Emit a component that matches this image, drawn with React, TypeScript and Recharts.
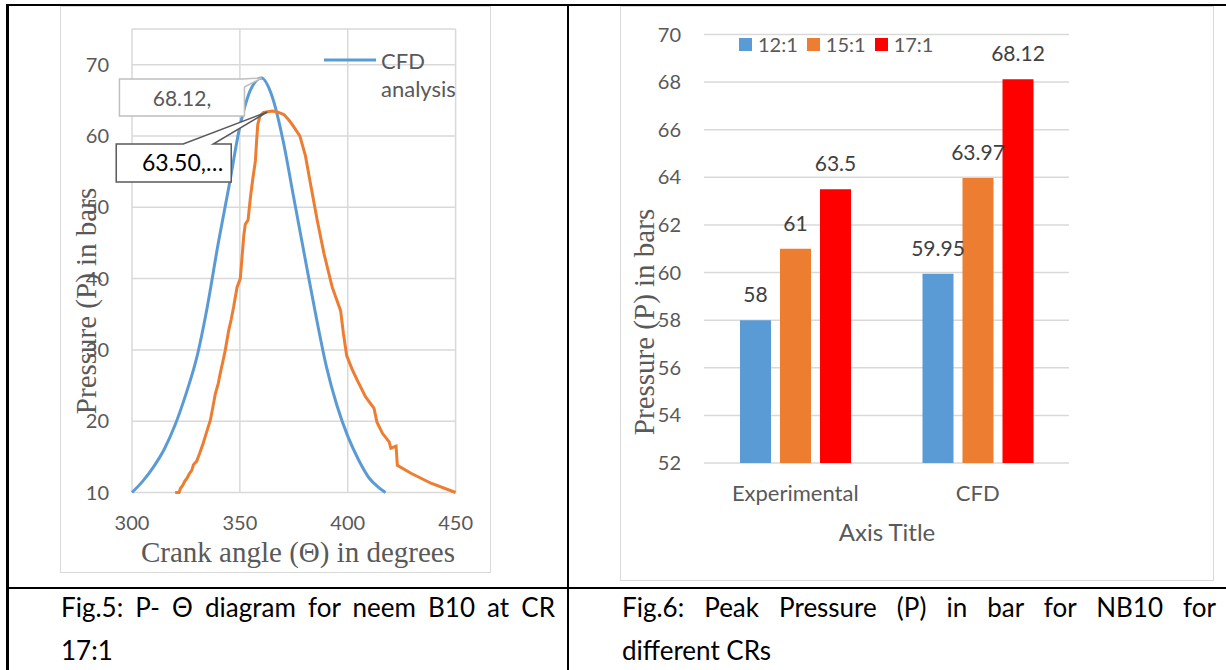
import React from "react";
import {
  LineChart,
  Line,
  BarChart,
  Bar,
  XAxis,
  YAxis,
  CartesianGrid,
  Legend,
  LabelList,
  Label,
} from "recharts";

// Fig.5 – P-theta curves
const cfdAngles = [300, 305, 310, 315, 320, 325, 330, 335, 340, 345, 350, 355, 360, 365, 370, 375, 380, 385, 390, 395, 400, 405, 410, 414, 417.5];
const cfdPressures = [10, 11.6, 13.6, 16.1, 19.5, 23.8, 28.9, 36.2, 45, 53, 61.3, 66.5, 68.12, 65.5, 59.4, 51.3, 43.2, 35.2, 27.8, 22.2, 17.9, 14.6, 12, 10.8, 10];

const expAngles = [
  320, 321.8, 322.5, 323.5, 324.5, 325.5, 326.5, 327.7, 328.5, 330, 331.5, 333, 334.5, 336.3, 337.5, 338.6, 340, 340.9, 342, 343.2,
  344.8, 346, 347.1, 348.7, 350.2, 351, 351.8, 352.5, 353.8, 354.9, 356, 357.2, 357.8, 358.3, 359.3, 361, 363, 365, 367, 370.4,
  372.5, 374.3, 377.8, 380.4, 382.8, 385.9, 389, 392.8, 396.7, 398, 399.5, 402, 404.5, 408.3, 412.2, 413.5, 416.1, 419.2, 420, 421.5,
  422.4, 423, 429.3, 438.6, 450,
];
const expPressures = [
  10, 10, 10.6, 11, 11.6, 12, 12.6, 13.1, 13.9, 14.4, 15.6, 16.9, 18.4, 20.1, 22, 23.8, 25.3, 26.7, 28.2, 29.9,
  32.7, 34.3, 36, 38.8, 40, 43, 46, 47.6, 48.2, 51.4, 54, 56.5, 59.5, 61.6, 62.8, 63.3, 63.4, 63.5, 63.4, 63,
  62.3, 61.6, 60, 57.2, 53.2, 48.1, 43.5, 38.8, 35.5, 32.3, 29.2, 27.3, 25.7, 23.4, 21.8, 19.9, 18.3, 17.1, 16.2, 16.4,
  16.5, 13.8, 12.7, 11.3, 10,
];

const angleTicks = [300, 350, 400, 450];
const pressureTicks = [10, 20, 30, 40, 50, 60, 70];

// Fig.6 – peak pressure bars
const groups = ["Experimental", "CFD"];
const cr12 = [58, 59.95];
const cr15 = [61, 63.97];
const cr17 = [63.5, 68.12];
const peakTicks = [52, 54, 56, 58, 60, 62, 64, 66, 68, 70];

const cfdData = cfdAngles.map((a, i) => ({ angle: a, pressure: cfdPressures[i] }));
const expData = expAngles.map((a, i) => ({ angle: a, pressure: expPressures[i] }));
const cfdMax = Math.max(...cfdPressures);
const expMax = Math.max(...expPressures);

const barData = groups.map((g, i) => ({ group: g, cr12: cr12[i], cr15: cr15[i], cr17: cr17[i] }));

const SANS = "Lato, 'Open Sans', sans-serif";
const SERIF = "'Liberation Serif', 'Times New Roman', serif";
const GRID = "#d9d9d9";
const tickStyle = { fontFamily: SANS, fontSize: 20, fill: "#595959" };

const CfdCallout = (props: any) => {
  const { x, y, value } = props;
  if (value !== cfdMax) return <g />;
  const l = x - 142;
  const r = x - 17;
  const t = y + 1;
  const b = y + 38;
  return (
    <g>
      <path
        d={`M${l},${t} H${r - 2} L${x},${y} L${r},${t + 8} V${b} H${l} Z`}
        fill="#fff"
        stroke="#bfbfbf"
        strokeWidth={1.5}
      />
      <text x={(l + r) / 2} y={y + 28} textAnchor="middle" fontFamily={SANS} fontSize={21} fill="#595959">
        {`${value.toFixed(2)},`}
      </text>
    </g>
  );
};

const ExpCallout = (props: any) => {
  const { x, y, value } = props;
  if (value !== expMax) return <g />;
  const ax = x - 5;
  const ay = y + 1;
  const l = x - 156;
  const r = x - 41;
  const t = y + 33;
  const b = y + 71;
  return (
    <g>
      <path
        d={`M${l},${t} H${x - 89} L${ax},${ay} L${x - 59},${t} H${r} V${b} H${l} Z`}
        fill="#fff"
        stroke="#595959"
        strokeWidth={1.5}
      />
      <text x={x - 49} y={y + 60} textAnchor="end" fontFamily={SANS} fontSize={23} fill="#000">
        {`${value.toFixed(2)},…`}
      </text>
    </g>
  );
};

const LineLegend = (props: any) => {
  const items = (props.payload || []).filter((p: any) => p.value === "CFD analysis");
  return (
    <div>
      {items.map((p: any) => (
        <div key={p.value} style={{ display: "flex", alignItems: "flex-start", fontFamily: SANS, fontSize: 22, color: "#595959" }}>
          <svg width={57} height={27} style={{ display: "block" }}>
            <line x1={0} y1={13} x2={52} y2={13} stroke={p.color} strokeWidth={3} />
          </svg>
          <span style={{ width: 84, lineHeight: "28px" }}>{p.value}</span>
        </div>
      ))}
    </div>
  );
};

const BarLegend = (props: any) => (
  <div style={{ display: "flex", fontFamily: SANS, fontSize: 20, color: "#595959", lineHeight: "20px" }}>
    {(props.payload || []).map((p: any) => (
      <div key={p.value} style={{ display: "flex", alignItems: "center", marginRight: 9 }}>
        <span style={{ width: 13, height: 13, background: p.color, marginRight: 6, display: "inline-block" }} />
        <span>{p.value}</span>
      </div>
    ))}
  </div>
);

const AxisTitle = ({ x, y, text, vertical }: { x: number; y: number; text: string; vertical?: boolean }) => (
  <text
    x={x}
    y={y}
    textAnchor="middle"
    transform={vertical ? `rotate(-90, ${x}, ${y})` : undefined}
    fontFamily={SERIF}
    fontSize={29}
    fill="#595959"
  >
    {text}
  </text>
);

function PressureCurve() {
  return (
    <LineChart width={431} height={567} margin={{ top: 23, right: 35.4, bottom: 20.5, left: 12 }}>
      <CartesianGrid stroke={GRID} strokeWidth={1.5} />
      <XAxis
        type="number"
        dataKey="angle"
        domain={[300, 450]}
        ticks={angleTicks}
        axisLine={false}
        tickLine={false}
        tickSize={0}
        tickMargin={23}
        height={60}
        tick={tickStyle}
      >
        <Label content={() => <AxisTitle x={238} y={556} text="Crank angle (Θ) in degrees" />} />
      </XAxis>
      <YAxis
        type="number"
        domain={[10, 75]}
        ticks={pressureTicks}
        axisLine={false}
        tickLine={false}
        tickSize={0}
        tickMargin={23}
        width={60}
        tick={tickStyle}
      >
        <Label content={() => <AxisTitle x={36} y={295} text="Pressure (P) in bars" vertical />} />
      </YAxis>
      <Legend
        layout="horizontal"
        verticalAlign="middle"
        align="center"
        content={LineLegend}
        wrapperStyle={{ top: 41, left: 264, width: 145 }}
      />
      <Line
        data={cfdData}
        dataKey="pressure"
        name="CFD analysis"
        type="monotone"
        stroke="#5b9bd5"
        strokeWidth={3}
        dot={false}
        isAnimationActive={false}
        label={CfdCallout}
      />
      <Line
        data={expData}
        dataKey="pressure"
        name="Experimental"
        type="linear"
        stroke="#ed7d31"
        strokeWidth={3}
        dot={false}
        isAnimationActive={false}
        label={ExpCallout}
      />
    </LineChart>
  );
}

function PeakPressureBars() {
  const labelStyle = { fontFamily: SANS, fontSize: 21, fill: "#404040" };
  return (
    <BarChart
      width={594}
      height={575}
      data={barData}
      margin={{ top: 28.4, right: 145, bottom: 58, left: 24 }}
      barGap={9}
      barSize={31}
    >
      <CartesianGrid vertical={false} stroke={GRID} strokeWidth={1.5} />
      <XAxis
        dataKey="group"
        axisLine={false}
        tickLine={false}
        tickSize={0}
        tickMargin={22}
        height={60}
        tick={{ ...tickStyle, fontSize: 22 }}
      >
        <Label
          content={() => (
            <text x={267} y={535} textAnchor="middle" fontFamily={SANS} fontSize={24} fill="#595959">
              Axis Title
            </text>
          )}
        />
      </XAxis>
      <YAxis
        type="number"
        domain={[52, 70]}
        ticks={peakTicks}
        axisLine={false}
        tickLine={false}
        tickSize={0}
        tickMargin={23}
        width={60}
        tick={tickStyle}
      >
        <Label content={() => <AxisTitle x={34} y={316} text="Pressure (P) in bars" vertical />} />
      </YAxis>
      <Legend
        layout="horizontal"
        verticalAlign="middle"
        align="center"
        content={BarLegend}
        wrapperStyle={{ top: 28, left: 119, width: 260 }}
      />
      <Bar dataKey="cr12" name="12:1" fill="#5b9bd5" isAnimationActive={false}>
        <LabelList dataKey="cr12" position="top" offset={18} style={labelStyle} />
      </Bar>
      <Bar dataKey="cr15" name="15:1" fill="#ed7d31" isAnimationActive={false}>
        <LabelList dataKey="cr15" position="top" offset={18} style={labelStyle} />
      </Bar>
      <Bar dataKey="cr17" name="17:1" fill="#ff0000" isAnimationActive={false}>
        <LabelList dataKey="cr17" position="top" offset={18} style={labelStyle} />
      </Bar>
    </BarChart>
  );
}

const rule = (left: number, top: number, width: number, height: number) => (
  <div style={{ position: "absolute", left, top, width, height, background: "#000" }} />
);

const captionLine = {
  textAlign: "justify" as const,
  textAlignLast: "justify" as const,
};

const captionBox = {
  position: "absolute" as const,
  top: 586,
  fontFamily: SANS,
  fontSize: 26,
  lineHeight: "43px",
  color: "#000",
};

export default function App() {
  return (
    <div
      style={{
        position: "absolute",
        left: 0,
        top: 0,
        width: 1226,
        height: 670,
        background: "#fff",
        overflow: "hidden",
      }}
    >
      {/* table rules */}
      {rule(6, 4, 1220, 2)}
      {rule(6, 4, 2.5, 666)}
      {rule(567, 4, 2, 666)}
      {rule(6, 587, 1220, 2)}

      {/* chart frames */}
      <div style={{ position: "absolute", left: 60, top: 6, width: 431, height: 567, border: `1px solid ${GRID}`, boxSizing: "border-box" }} />
      <div style={{ position: "absolute", left: 620, top: 6, width: 594, height: 575, border: `1px solid ${GRID}`, boxSizing: "border-box" }} />

      <div style={{ position: "absolute", left: 60, top: 6 }}>
        <PressureCurve />
      </div>
      <div style={{ position: "absolute", left: 620, top: 6 }}>
        <PeakPressureBars />
      </div>

      {/* captions */}
      <div style={{ ...captionBox, left: 61, width: 494 }}>
        <div style={captionLine}>Fig.5: P- Θ diagram for neem B10 at CR</div>
        <div>17:1</div>
      </div>
      <div style={{ ...captionBox, left: 622, width: 594 }}>
        <div style={captionLine}>Fig.6: Peak Pressure (P) in bar for NB10 for</div>
        <div>different CRs</div>
      </div>
    </div>
  );
}
